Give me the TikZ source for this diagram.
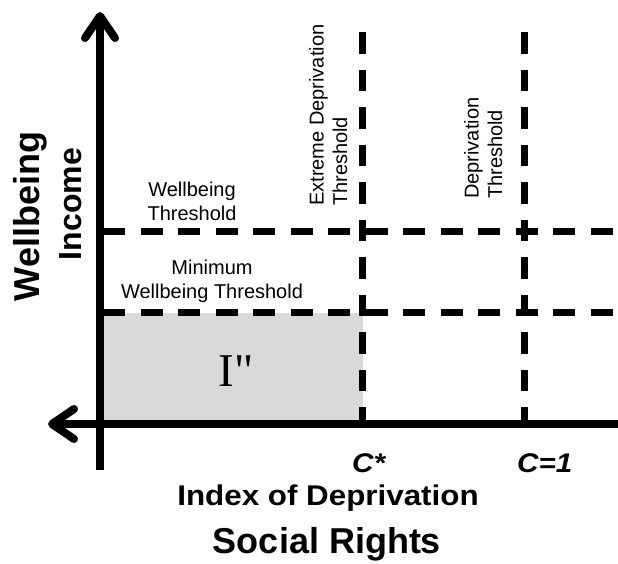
\documentclass[tikz,border=0pt]{standalone}
\usepackage{fontspec}
\setmainfont{Liberation Sans}
\newfontfamily\serifI{Liberation Serif}
\newfontfamily\wideb[FakeStretch=1.1]{Liberation Sans}
\usetikzlibrary{arrows.meta}
\begin{document}
\begin{tikzpicture}[x=1pt,y=-1pt,
  axis/.style={line width=8pt, -{Straight Barb[length=22pt,width=30pt,round]}},
  thr/.style={line width=7pt, dash pattern=on 21.7pt off 15.8pt},
  small/.style={inner sep=0pt, font=\fontsize{20}{23.5}\selectfont},
  bigh/.style={inner sep=0pt, font=\wideb\bfseries\fontsize{#1}{#1}\selectfont},
  bigv/.style={inner sep=0pt, rotate=90, font=\bfseries\fontsize{#1}{#1}\selectfont},
  cval/.style={inner sep=0pt, anchor=base west, font=\wideb\bfseries\itshape\fontsize{27}{27}\selectfont},
]
\useasboundingbox (0,0) rectangle (618,563);
% shaded region
\fill[black!15] (100,312.5) rectangle (362.5,424);
% thresholds
\draw[thr] (103.3,231.7) -- (612.5,231.7);
\draw[thr] (103.3,312.7) -- (612.5,312.7);
\draw[thr] (362.5,32) -- (362.5,424);
\draw[thr] (524,32) -- (524,424);
% axes
\draw[axis] (100,470) -- (100,12);
\draw[axis] (618,424) -- (48,424);
% labels
\node[inner sep=0pt, anchor=base, font=\serifI\fontsize{47}{47}\selectfont] (ipp) at (236,386) {I"};
\node[bigv=36] (wb) at (30.5,216.5) {Wellbeing};
\node[bigv=32, anchor=base] (inc) at (81,204) {Income};
\node[small, align=center, anchor=base] (wt) at (192,220) {Wellbeing\\Threshold};
\node[small, align=center, anchor=base] (mwt) at (212,298) {Minimum\\Wellbeing Threshold};
\node[small, rotate=90, align=left, anchor=base west] (edt) at (347,206) {Extreme Deprivation\\Threshold};
\node[small, rotate=90, align=left, anchor=base west] (dt) at (502,199) {Deprivation\\Threshold};
\node[cval] (cstar) at (352,472) {C*};
\node[cval] (cone) at (517,472) {C=1};
\node[bigh=28.5, anchor=base] (idx) at (328,505) {Index of Deprivation};
\node[inner sep=0pt, anchor=base, font=\bfseries\fontsize{36}{36}\selectfont] (sr) at (327,553) {Social Rights};
\end{tikzpicture}
\end{document}
